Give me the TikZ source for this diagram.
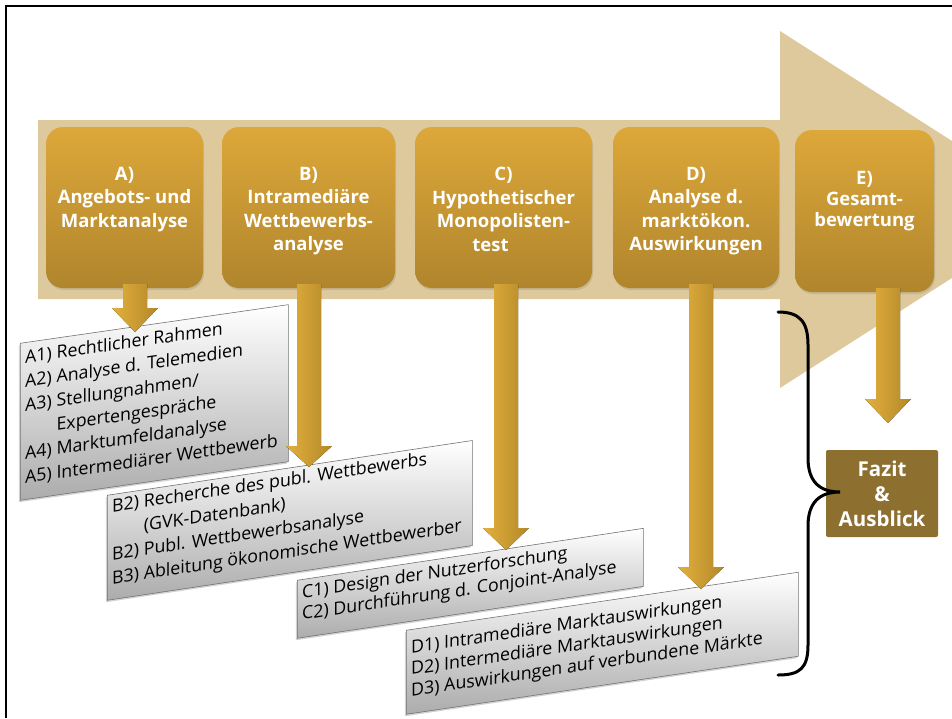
\documentclass[tikz,border=0pt]{standalone}
\usepackage{fontspec}
\setmainfont{Open Sans}
\usetikzlibrary{calc,shadows}
\definecolor{tanarrow}{RGB}{221,201,155}
\definecolor{goldtop}{RGB}{221,168,58}
\definecolor{goldbot}{RGB}{176,133,44}
\definecolor{goldlight}{RGB}{226,176,62}
\definecolor{golddark}{RGB}{180,136,40}
\definecolor{fazitbrown}{RGB}{141,111,48}
\definecolor{grayfill}{RGB}{172,172,172}
\tikzset{
  goldbox/.style={rounded corners=17pt, top color=goldtop, bottom color=goldbot, draw=none,
    drop shadow={opacity=0.25, shadow xshift=1pt, shadow yshift=-2pt}},
  goldtext/.style={text=white, font=\fontsize{18.5}{23.5}\selectfont\bfseries, align=center, inner sep=0pt, anchor=north},
  graybox/.style={transform shape, anchor=north west, top color=white, bottom color=grayfill,
    draw=black!55, line width=0.6pt, inner sep=0pt,
    drop shadow={opacity=0.35, shadow xshift=-1.5pt, shadow yshift=-2pt}},
  graytext/.style={transform shape, anchor=north west, inner sep=0pt, text=black},
  goldarrow/.style={left color=goldlight, right color=golddark},
  fazit/.style={fill=fazitbrown, rounded corners=2pt, text=white, align=center,
    font=\fontsize{20.5}{25}\selectfont\bfseries, minimum width=112pt, minimum height=87pt, inner sep=0pt},
  bracepath/.style={line width=3pt, black, line cap=round}
}
\newcommand\goldarr[3]{% start coord, tip coord, head length
  \fill[goldarrow] ($(#1)+(-12,0)$) -- ($(#2)+(-12,-#3)$) -- ($(#2)+(-23,-#3)$) -- (#2)
    -- ($(#2)+(23,-#3)$) -- ($(#2)+(12,-#3)$) -- ($(#1)+(12,0)$) -- cycle;}
\begin{document}
\begin{tikzpicture}[x=1pt,y=-1pt]
\useasboundingbox (0,0) rectangle (952,718);
\begin{scope}
\clip (0,0) rectangle (952,718);
\draw[line width=2.5pt] (6,718) -- (6,6) -- (952,6);
\fill[tanarrow] (38,120) -- (780,120) -- (780,31) -- (1059,209.5) -- (780,388) -- (780,299) -- (38,299) -- cycle;
\end{scope}

% gold boxes
\node[goldbox, minimum width=157pt, minimum height=161pt] (A) at (124.5,207.5) {};
\node[goldbox, minimum width=173pt, minimum height=161pt] (B) at (308.5,207.5) {};
\node[goldbox, minimum width=177pt, minimum height=161pt] (C) at (503.5,207.5) {};
\node[goldbox, minimum width=166pt, minimum height=161pt] (D) at (696,207.5) {};
\node[goldbox, minimum width=139pt, minimum height=162pt] (E) at (864.5,211) {};

\node[goldtext] (At) at (124.5,167) {A)\\Angebots- und\\Marktanalyse};
\node[goldtext] (Bt) at (308.5,167) {B)\\Intramediäre\\Wettbewerbs-\\analyse};
\node[goldtext] (Ct) at (503.5,167) {C)\\Hypothetischer\\Monopolisten-\\test\hspace*{26pt}};
\node[goldtext] (Dt) at (696,167) {D)\\Analyse d.\\marktökon.\\Auswirkungen};
\node[goldtext, font=\fontsize{18.5}{21}\selectfont\bfseries] (Et) at (864.5,171) {E)\\Gesamt-\\bewertung};

% gray boxes
\begin{scope}[shift={(20,343)}, yslant=0.144]
  \node[graybox, minimum width=268pt, minimum height=157pt] (Ag) at (0,0) {};
  \node[graytext] (Agt) at (5,4) {\fontsize{17.8}{24}\selectfont
    \begin{tabular}{@{}l@{ }l@{}}A1) & Rechtlicher Rahmen\\ A2) & Analyse d. Telemedien\\ A3) & Stellungnahmen/\\ & Expertengespräche\\ A4) & Marktumfeldanalyse\\ A5) & Intermediärer Wettbewerb\end{tabular}};
\end{scope}
\begin{scope}[shift={(107,495)}, yslant=0.150]
  \node[graybox, minimum width=365pt, minimum height=105pt] (Bg) at (0,0) {};
  \node[graytext] (Bgt) at (5,1) {\fontsize{17.8}{24}\selectfont
    \begin{tabular}{@{}l@{ }l@{}}B2) & Recherche des publ. Wettbewerbs\\ & (GVK-Datenbank)\\ \multicolumn{2}{@{}l@{}}{B2) Publ. Wettbewerbsanalyse}\\ \multicolumn{2}{@{}l@{}}{B3) Ableitung ökonomische Wettbewerber}\end{tabular}};
\end{scope}
\begin{scope}[shift={(297,580)}, yslant=0.150]
  \node[graybox, minimum width=346pt, minimum height=58pt] (Cg) at (0,0) {};
  \node[graytext] (Cgt) at (5,4) {\fontsize{17.8}{21.5}\selectfont
    \begin{tabular}{@{}l@{}}C1) Design der Nutzerforschung\\ C2) Durchführung d. Conjoint-Analyse\end{tabular}};
\end{scope}
\begin{scope}[shift={(406,630)}, yslant=0.148]
  \node[graybox, minimum width=392pt, minimum height=84pt] (Dg) at (0,0) {};
  \node[graytext] (Dgt) at (5,9) {\fontsize{17.8}{21.5}\selectfont
    \begin{tabular}{@{}l@{}}D1) Intramediäre Marktauswirkungen\\ D2) Intermediäre Marktauswirkungen\\ D3) Auswirkungen auf verbundene Märkte\end{tabular}};
\end{scope}

% arrows
\coordinate (a0) at (135,284); \coordinate (a1) at (135,332);
\coordinate (b0) at (309,284); \coordinate (b1) at (309,467);
\coordinate (c0) at (506,284); \coordinate (c1) at (506,550);
\coordinate (d0) at (701,284); \coordinate (d1) at (701,589);
\coordinate (e0) at (888,288); \coordinate (e1) at (888,423);
\goldarr{a0}{a1}{24}
\goldarr{b0}{b1}{21}
\goldarr{c0}{c1}{22}
\goldarr{d0}{d1}{22}
\goldarr{e0}{e1}{24}

% Fazit
\node[fazit] (F) at (882,493.5) {Fazit\\\&\\Ausblick};

% brace
\coordinate (br0) at (778,312);
\coordinate (brtip) at (840,492);
\coordinate (br1) at (778,675);
\draw[bracepath] (br0) .. controls (800,312) and (808,322) .. (808,345) -- (808,458)
  .. controls (808,482) and (820,492) .. (brtip)
  .. controls (820,492) and (808,502) .. (808,526) -- (808,645)
  .. controls (808,668) and (800,675) .. (br1);
\end{tikzpicture}
\end{document}
